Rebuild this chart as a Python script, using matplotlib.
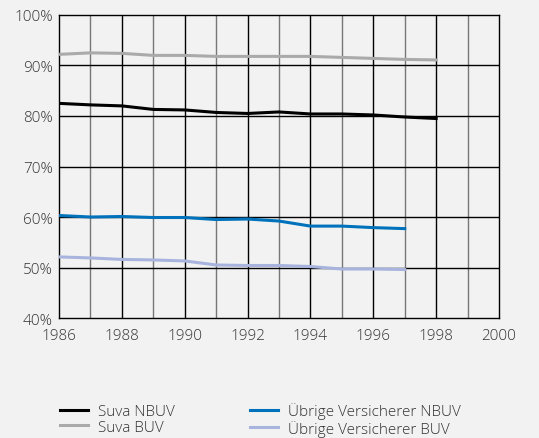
import numpy as np
import matplotlib.pyplot as plt
from matplotlib.ticker import MultipleLocator, FuncFormatter

plt.rcParams['font.family'] = ['Open Sans', 'DejaVu Sans']
plt.rcParams['font.weight'] = 'light'

years_suva = list(range(1986, 1999))
years_other = list(range(1986, 1998))

suva_nbuv = [82.5, 82.2, 82.0, 81.3, 81.2, 80.7, 80.5, 80.8, 80.4, 80.4, 80.2, 79.8, 79.5]
suva_buv = [92.2, 92.5, 92.4, 92.0, 92.0, 91.8, 91.8, 91.8, 91.8, 91.6, 91.4, 91.2, 91.1]
other_nbuv = [60.3, 60.0, 60.1, 59.9, 59.9, 59.5, 59.6, 59.2, 58.2, 58.2, 57.9, 57.7]
other_buv = [52.1, 51.9, 51.6, 51.5, 51.3, 50.5, 50.4, 50.4, 50.2, 49.7, 49.7, 49.6]

bg = '#f2f2f2'
txt = '#333333'
fig = plt.figure(figsize=(5.39, 4.39), dpi=100, facecolor=bg)
ax = fig.add_axes([0.1095, 0.2733, 0.8163, 0.6903], facecolor=bg)

# grid: odd years gray, even years black
for yr in range(1987, 2000):
    ax.axvline(yr, color='#777777' if yr % 2 else 'black', lw=1.0, zorder=1)
for v in range(50, 100, 10):
    ax.axhline(v, color='black', lw=1.0, zorder=1)

ax.plot(years_suva, suva_nbuv, color='black', lw=2.2, label='Suva NBUV', zorder=3)
ax.plot(years_suva, suva_buv, color='#aaaaaa', lw=2.2, label='Suva BUV', zorder=3)
ax.plot(years_other, other_nbuv, color='#0072bc', lw=2.2, label='Übrige Versicherer NBUV', zorder=3)
ax.plot(years_other, other_buv, color='#a8b4de', lw=2.2, label='Übrige Versicherer BUV', zorder=3)

ax.set_xlim(1986, 2000)
ax.set_ylim(40, 100)
ax.xaxis.set_major_locator(MultipleLocator(2))
ax.yaxis.set_major_locator(MultipleLocator(10))
ax.yaxis.set_major_formatter(FuncFormatter(lambda v, p: f"{v:.0f}%"))
ax.tick_params(length=0, labelsize=11, colors=txt)
ax.tick_params(axis='x', pad=7.5)
ax.tick_params(axis='y', pad=4.5)
for s in ax.spines.values():
    s.set_color('black')
    s.set_linewidth(1.0)

handles, labels = ax.get_legend_handles_labels()
fig.legend(handles, labels, ncol=2, loc='upper left', frameon=False, fontsize=11,
           handlelength=1.85, labelspacing=0.05, handletextpad=0.65, columnspacing=4.9,
           borderpad=0, borderaxespad=0, labelcolor=txt,
           bbox_to_anchor=(60 / 539, 1 - 403 / 439))

fig.savefig('out.png', dpi=100, facecolor=bg)
